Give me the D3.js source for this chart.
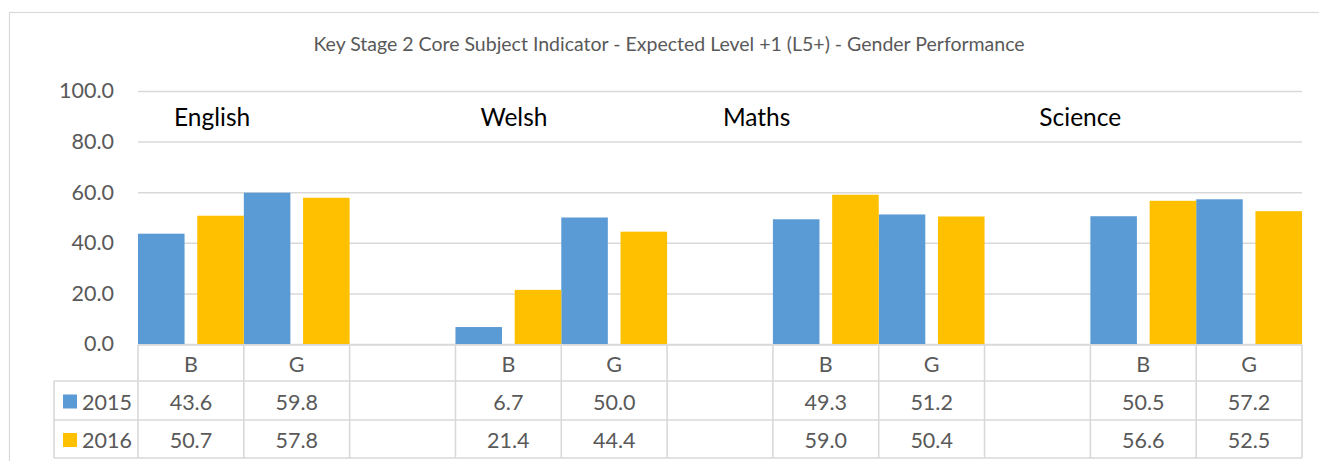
<!DOCTYPE html>
<html>
<head>
<meta charset="utf-8">
<script src="https://cdn.jsdelivr.net/npm/d3@7"></script>
<style>
	body { margin: 0; background: #ffffff; }
	svg text { font-family: Lato, "Open Sans", sans-serif; }
</style>
</head>
<body>
<div id="chart"></div>
<script>
// Data
const title = "Key Stage 2 Core Subject Indicator - Expected Level +1 (L5+) - Gender Performance"
const subjects = ["English", "Welsh", "Maths", "Science"]
const seriesNames = ["2015", "2016"]
// one entry per column of the data table, blanks are the spacer columns
const categoryLabels = ["B", "G", "", "B", "G", "", "B", "G", "", "B", "G"]
const values2015 = [43.6, 59.8, null, 6.7, 50.0, null, 49.3, 51.2, null, 50.5, 57.2]
const values2016 = [50.7, 57.8, null, 21.4, 44.4, null, 59.0, 50.4, null, 56.6, 52.5]
const yTicks = [0, 20, 40, 60, 80, 100]

// Layout
const width = 1319, height = 461
const plot = { left: 138, right: 1302, top: 91, bottom: 344 }
const rows = { cat: 345, s2015: 381, s2016: 420, end: 458 }
const legendLeft = 54
const colors = ["#5b9bd5", "#ffc000"]
const gridColor = "#d9d9d9"
const textColor = "#595959"
// where the subject text boxes sit, relative to each subject's first column
const subjectOffset = [36, 25, -50, -51]

const keys = categoryLabels.map((d, i) => i)

const svg = d3.select("#chart")
	.append("svg")
	.attr("width", width)
	.attr("height", height)

// chart frame
svg.append("rect")
	.attr("x", 9.5)
	.attr("y", 12.5)
	.attr("width", width + 20)
	.attr("height", height + 20)
	.attr("fill", "none")
	.attr("stroke", gridColor)
	.attr("stroke-width", 1.2)

// Scales
const xScale = d3.scaleBand()
	.domain(keys)
	.range([plot.left, plot.right])
	.padding(0)

const yScale = d3.scaleLinear()
	.domain([0, 100])
	.range([plot.bottom, plot.top])

const barW = xScale.bandwidth() * 0.44

// Title
svg.append("text")
	.attr("x", 669)
	.attr("y", 51)
	.attr("text-anchor", "middle")
	.attr("font-size", "19.5px")
	.attr("fill", textColor)
	.text(title)

// Grid + y labels
const yAxis = d3.axisLeft(yScale)
	.tickValues(yTicks)
	.tickSize(-(plot.right - plot.left))
	.tickPadding(24)
	.tickFormat(d3.format(".1f"))

const yAxisGroup = svg.append("g")
	.attr("transform", `translate(${plot.left},0)`)
	.call(yAxis)
yAxisGroup.select(".domain").remove()
yAxisGroup.selectAll("line")
	.attr("stroke", gridColor)
	.attr("stroke-width", 1.5)
yAxisGroup.selectAll("text")
	.attr("font-size", "21.5px")
	.attr("fill", textColor)
	.attr("font-family", "Lato, sans-serif")

// Bars
const series = [values2015, values2016]
series.forEach((vals, s) => {
	svg.append("g").selectAll("rect")
		.data(vals.map((v, i) => ({ key: i, value: v })).filter(d => d.value !== null))
		.join("rect")
		.attr("x", d => s === 0 ? xScale(d.key) : xScale(d.key) + xScale.bandwidth() - barW)
		.attr("y", d => yScale(d.value))
		.attr("width", barW)
		.attr("height", d => yScale(0) - yScale(d.value))
		.attr("fill", colors[s])
})

// Subject labels
subjects.forEach((name, i) => {
	svg.append("text")
		.attr("x", xScale(i * 3) + subjectOffset[i])
		.attr("y", 126)
		.attr("font-size", "24.5px")
		.attr("fill", "#000000")
		.text(name)
})

// Data table
const table = svg.append("g")
const line = (x1, y1, x2, y2) => table.append("line")
	.attr("x1", x1).attr("y1", y1).attr("x2", x2).attr("y2", y2)
	.attr("stroke", gridColor)
	.attr("stroke-width", 1.6)

line(plot.left, rows.cat, plot.right, rows.cat)
line(legendLeft, rows.s2015, plot.right, rows.s2015)
line(legendLeft, rows.s2016, plot.right, rows.s2016)
line(legendLeft, rows.end, plot.right, rows.end)
line(legendLeft, rows.s2015, legendLeft, rows.end)
keys.concat([keys.length]).forEach((k) => {
	const x = k < keys.length ? xScale(k) : plot.right
	line(x, rows.cat, x, rows.end)
})

const cellText = (x, y, txt) => table.append("text")
	.attr("x", x)
	.attr("y", y)
	.attr("text-anchor", "middle")
	.attr("dominant-baseline", "central")
	.attr("font-size", "21.5px")
	.attr("fill", textColor)
	.text(txt)

categoryLabels.forEach((lab, i) => {
	cellText(xScale(i) + xScale.bandwidth() / 2, (rows.cat + rows.s2015) / 2 + 1, lab)
})

const rowMid = [(rows.s2015 + rows.s2016) / 2 + 1, (rows.s2016 + rows.end) / 2 + 1]
series.forEach((vals, s) => {
	vals.forEach((v, i) => {
		if (v !== null) cellText(xScale(i) + xScale.bandwidth() / 2, rowMid[s], d3.format(".1f")(v))
	})
	// legend key
	table.append("rect")
		.attr("x", 63)
		.attr("y", rowMid[s] - 7)
		.attr("width", 14)
		.attr("height", 14)
		.attr("fill", colors[s])
	table.append("text")
		.attr("x", 82)
		.attr("y", rowMid[s])
		.attr("dominant-baseline", "central")
		.attr("font-size", "21.5px")
		.attr("fill", textColor)
		.text(seriesNames[s])
})
</script>
</body>
</html>
